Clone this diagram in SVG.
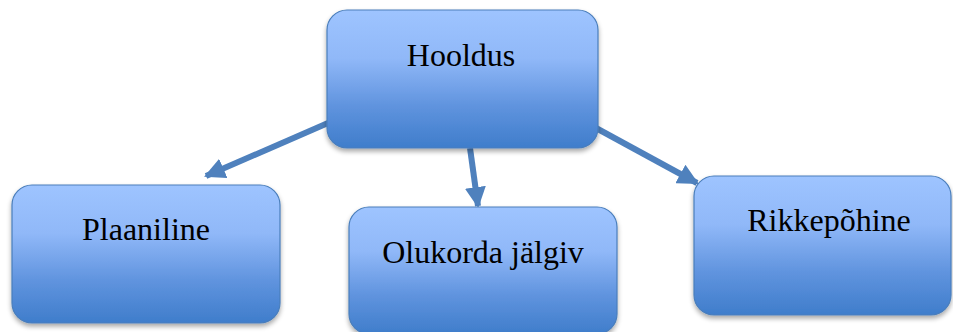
<svg xmlns="http://www.w3.org/2000/svg" width="953" height="332" viewBox="0 0 953 332">
<defs>
<linearGradient id="g" x1="0" y1="0" x2="0" y2="1">
<stop offset="0" stop-color="#9ec4ff"/>
<stop offset="0.35" stop-color="#90b8f8"/>
<stop offset="0.7" stop-color="#5f93de"/>
<stop offset="1" stop-color="#3f7dcb"/>
</linearGradient>
<filter id="sh" x="-10%" y="-10%" width="120%" height="130%">
<feGaussianBlur in="SourceAlpha" stdDeviation="2.5"/>
<feOffset dx="0" dy="3" result="b"/>
<feComponentTransfer><feFuncA type="linear" slope="0.35"/></feComponentTransfer>
<feMerge><feMergeNode/><feMergeNode in="SourceGraphic"/></feMerge>
</filter>
<marker id="ah" viewBox="0 0 10 10" refX="9" refY="5" markerWidth="3.5" markerHeight="3.5" orient="auto" markerUnits="strokeWidth">
<path d="M0,0 L10,5 L0,10 Z" fill="#4f81bd"/>
</marker>
</defs>
<style>
.box{fill:url(#g);stroke:#4a7ebb;stroke-width:1.2;filter:url(#sh)}
.lbl{font-size:32px;fill:#000;text-anchor:middle}
.con{stroke:#4f81bd;stroke-width:6;fill:none;marker-end:url(#ah)}
</style>
<g id="connectors">
<line class="con" x1="328" y1="123" x2="206" y2="176"/>
<line class="con" x1="470" y1="148" x2="478" y2="206"/>
<line class="con" x1="596" y1="128" x2="697" y2="183"/>
</g>
<g id="node-hooldus">
<rect class="box" x="327" y="10" width="271" height="138" rx="20"/>
<text class="lbl" font-family="Liberation Serif, DejaVu Serif, serif" x="461" y="66">Hooldus</text>
</g>
<g id="node-plaaniline">
<rect class="box" x="12" y="185" width="268" height="138" rx="20"/>
<text class="lbl" font-family="Liberation Serif, DejaVu Serif, serif" x="146" y="240">Plaaniline</text>
</g>
<g id="node-olukorda">
<rect class="box" x="349" y="207" width="268" height="127" rx="20"/>
<text class="lbl" font-family="Liberation Serif, DejaVu Serif, serif" x="483" y="263">Olukorda jälgiv</text>
</g>
<g id="node-rikkepohine">
<rect class="box" x="694" y="176" width="257" height="139" rx="20"/>
<text class="lbl" font-family="Liberation Serif, DejaVu Serif, serif" x="829" y="231">Rikkepõhine</text>
</g>
</svg>
